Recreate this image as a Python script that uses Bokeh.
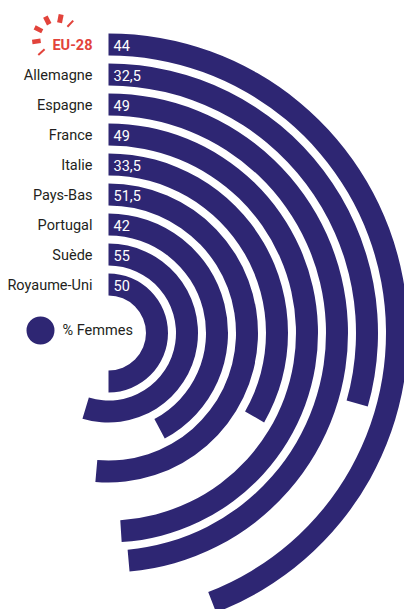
from math import pi, cos, sin, radians
from bokeh.plotting import figure
from bokeh.models import Range1d, ColumnDataSource
from bokeh.core.properties import value
from bokeh.embed import file_html
from bokeh.resources import INLINE

countries = ["EU-28", "Allemagne", "Espagne", "France", "Italie", "Pays-Bas", "Portugal", "Suède", "Royaume-Uni"]
labels = ["44", "32,5", "49", "49", "33,5", "51,5", "42", "55", "50"]
# arc lengths as drawn in the picture (in % of a full turn)
drawn = [44.15, 29.4, 48.6, 49, 33.3, 51.4, 42.2, 54.7, 50]

NAVY = "#2e2673"
RED = "#e2433b"
INK = "#231f20"
FONT = "Roboto"
CX, CY = 108, -332.5
R0, STEP, BAND = 59.5, 30, 22
n = len(countries)
outer = [R0 + STEP * (n - 1 - i) for i in range(n)]
inner = [r - BAND for r in outer]
rows_y = [CY + r - BAND / 2 - 0.5 for r in outer]
ends = [pi / 2 - radians(v * 3.6) for v in drawn]

p = figure(width=404, height=609, x_range=Range1d(0, 404), y_range=Range1d(-609, 0),
           toolbar_location=None, output_backend="svg", min_border=0,
           outline_line_color=None, background_fill_color="white", border_fill_color="white")
p.axis.visible = False
p.grid.visible = False

src = ColumnDataSource(dict(x=[CX] * n, y=[CY] * n, inner=inner, outer=outer,
                            start=[pi / 2] * n, end=ends))
p.annular_wedge("x", "y", inner_radius="inner", outer_radius="outer", start_angle="start",
                end_angle="end", direction="clock", source=src, fill_color=NAVY, line_color=None)

colors = [RED] + [INK] * (n - 1)
p.text([92] * n, rows_y, text=countries, text_align="right", text_baseline="middle",
       text_font=value(FONT), text_font_size="14.5px", text_color=colors,
       text_font_style=["bold"] + ["normal"] * (n - 1))
p.text([113] * n, rows_y, text=labels, text_align="left", text_baseline="middle",
       text_font=value(FONT), text_font_size="14.5px", text_color="white")

# legend
p.scatter([40], [-330], size=28, marker="circle", fill_color=NAVY, line_color=None)
p.text([62], [-330], text=["% Femmes"], text_align="left", text_baseline="middle",
       text_font=value(FONT), text_font_size="14.5px", text_color=INK)

# burst around EU-28
bx, by = 56, -38
ticks = [(222, 2), (188, 4.5), (153, 4.5), (117, 5), (79, 5), (47, 2)]
r0, r1 = 16, 24.5
x0 = [bx + r0 * cos(radians(t)) for t, w in ticks]
y0 = [by + r0 * sin(radians(t)) for t, w in ticks]
x1 = [bx + r1 * cos(radians(t)) for t, w in ticks]
y1 = [by + r1 * sin(radians(t)) for t, w in ticks]
p.segment(x0, y0, x1, y1, line_color=RED, line_width=[t[1] for t in ticks])

open("out.html", "w").write(file_html(p, INLINE))
